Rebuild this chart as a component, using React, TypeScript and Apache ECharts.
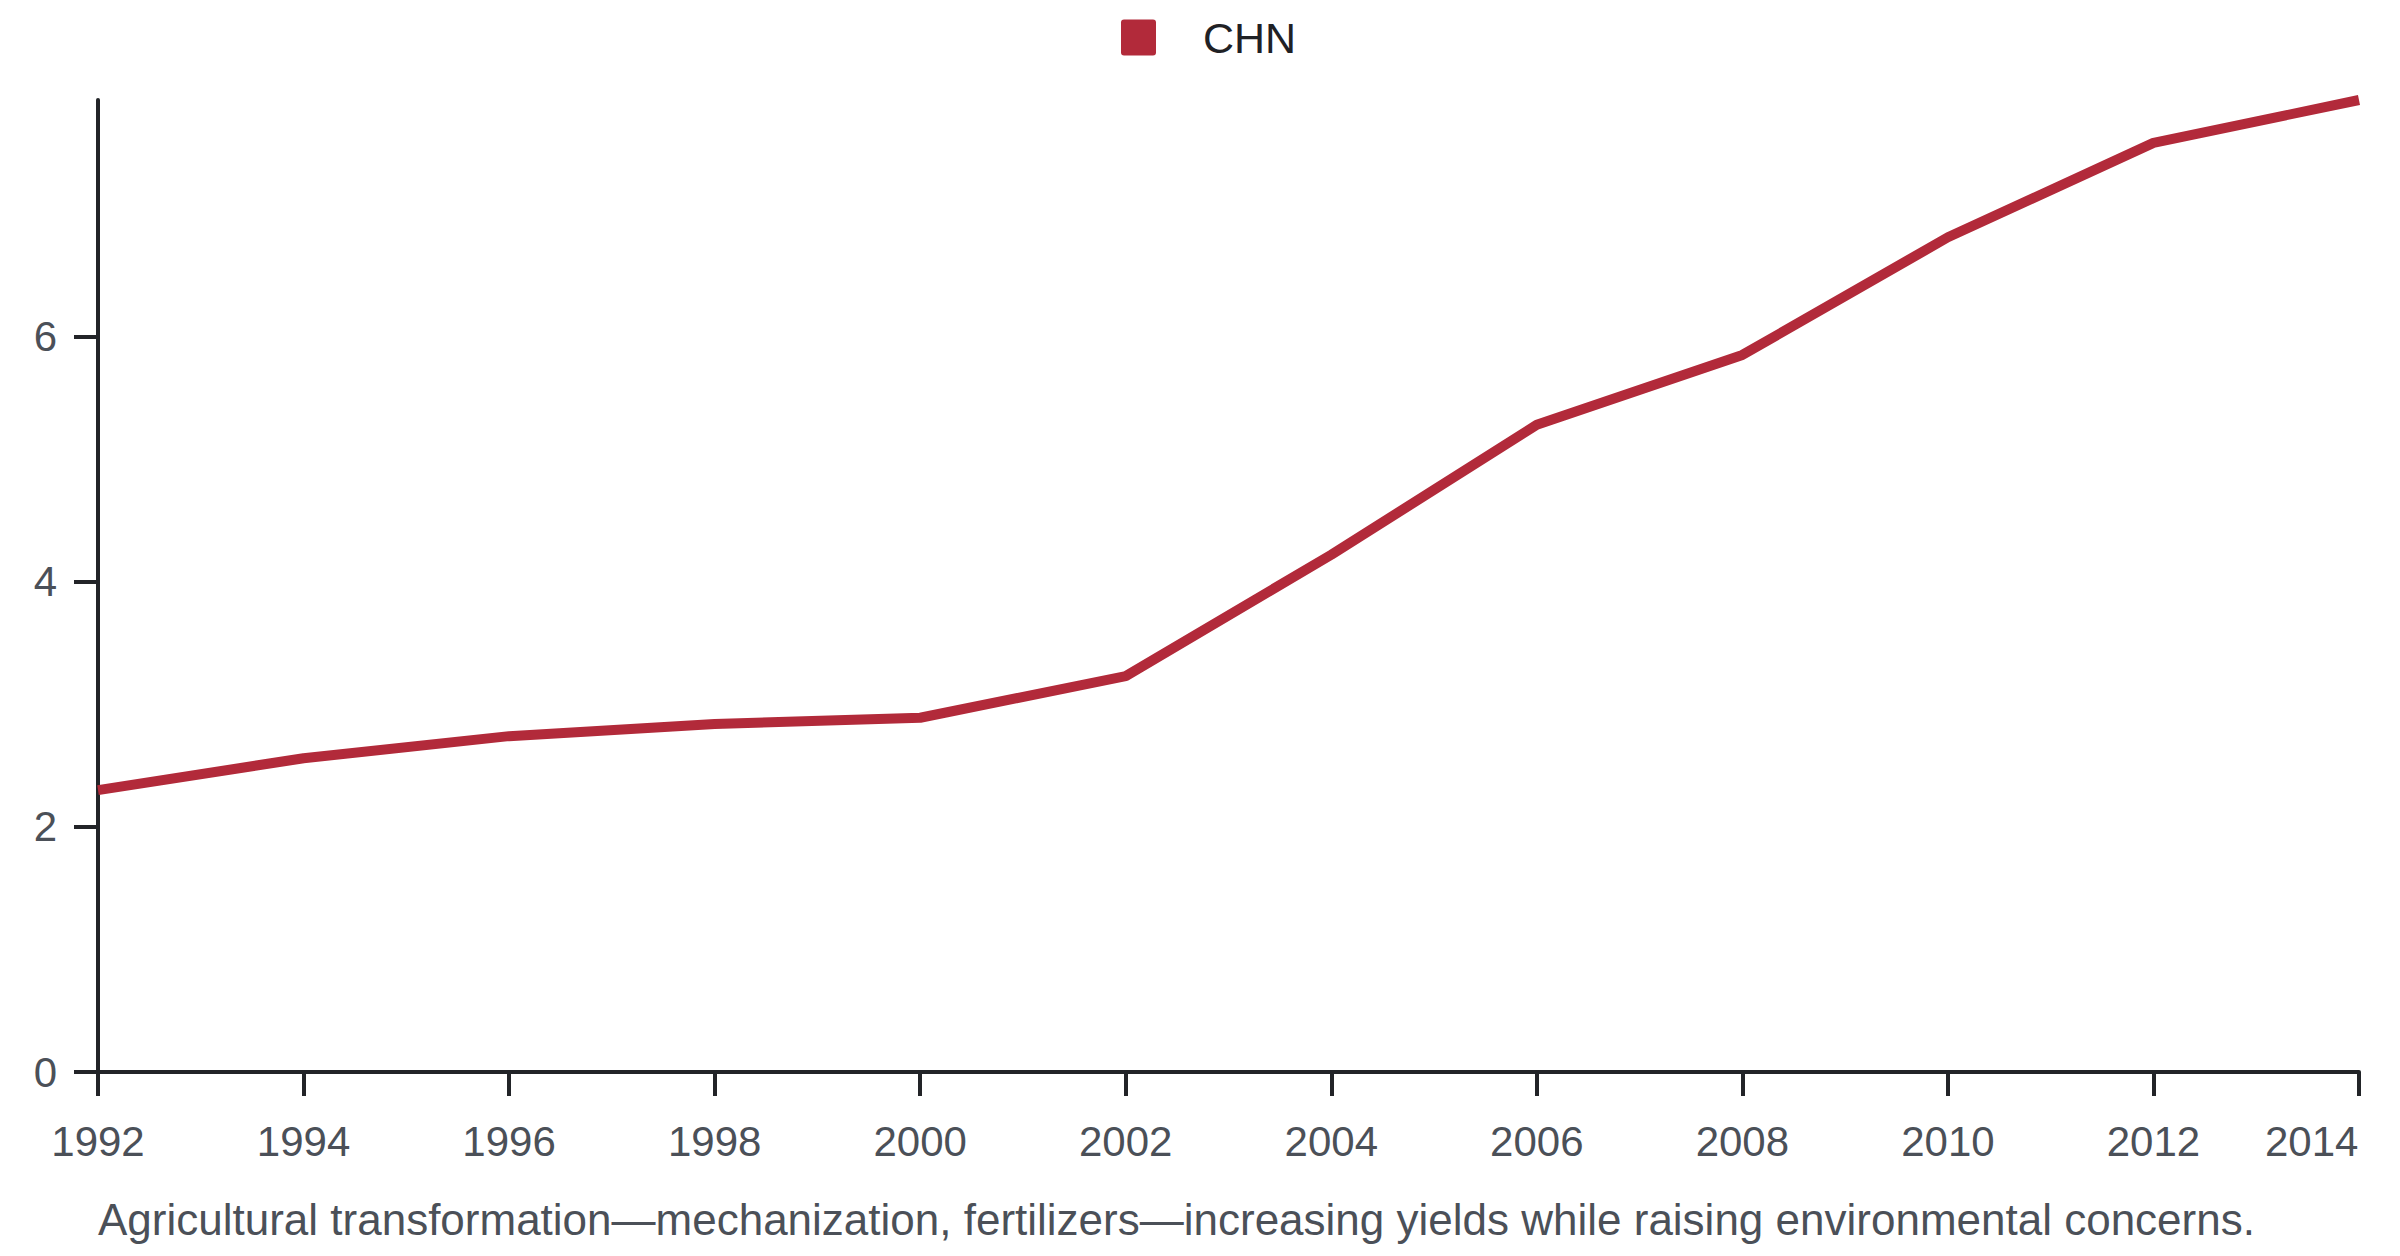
import { useEffect, useRef } from 'react'
import * as echarts from 'echarts'

const years = [1992, 1994, 1996, 1998, 2000, 2002, 2004, 2006, 2008, 2010, 2012, 2014]
const chnValues = [2.3, 2.56, 2.74, 2.84, 2.89, 3.23, 4.22, 5.28, 5.85, 6.81, 7.58, 7.93]
const yTicks = [0, 2, 4, 6]
const seriesName = 'CHN'
const caption = 'Agricultural transformation\u2014mechanization, fertilizers\u2014increasing yields while raising environmental concerns.'

const FONT = 'Liberation Sans, Arial, Helvetica, sans-serif'
const LINE_COLOR = '#b22a3a'
const AXIS_COLOR = '#222428'
const LABEL_COLOR = '#4b5058'

export default function App() {
  const chartRef = useRef<HTMLDivElement | null>(null)

  useEffect(() => {
    document.body.style.margin = '0'
    if (!chartRef.current) return
    const chart = echarts.init(chartRef.current, null, { renderer: 'svg' })

    chart.setOption({
      animation: false,
      backgroundColor: '#ffffff',
      textStyle: { fontFamily: FONT },
      legend: {
        data: [seriesName],
        left: 1121,
        top: 16,
        padding: 0,
        itemWidth: 35,
        itemHeight: 36,
        icon: 'path://M3,0 H32 Q35,0 35,3 V33 Q35,36 32,36 H3 Q0,36 0,33 V3 Q0,0 3,0 Z',
        textStyle: { fontSize: 43, color: '#1f2125', fontFamily: FONT, padding: [0, 0, 0, 42] }
      },
      grid: { left: 98, right: 41, top: 100, bottom: 184 },
      xAxis: {
        type: 'value',
        min: 1992,
        max: 2014,
        interval: 2,
        splitLine: { show: false },
        axisLine: { lineStyle: { color: AXIS_COLOR, width: 4 } },
        axisTick: { length: 24, lineStyle: { color: AXIS_COLOR, width: 4 } },
        axisLabel: {
          margin: 48,
          fontSize: 42,
          color: LABEL_COLOR,
          fontFamily: FONT,
          formatter: (v: number) => (v === 2014 ? '{r|' + v + '}' : String(v)),
          rich: {
            r: { width: 188, align: 'left', fontSize: 42, color: LABEL_COLOR, fontFamily: FONT }
          }
        }
      },
      yAxis: {
        type: 'value',
        min: 0,
        max: 'dataMax',
        interval: 2,
        splitLine: { show: false },
        axisLine: { show: true, lineStyle: { color: AXIS_COLOR, width: 4 } },
        axisTick: { show: true, length: 24, customValues: yTicks, lineStyle: { color: AXIS_COLOR, width: 4 } },
        axisLabel: { margin: 41, fontSize: 42, color: LABEL_COLOR, fontFamily: FONT, customValues: yTicks }
      },
      series: [
        {
          name: seriesName,
          type: 'line',
          data: years.map((y, i) => [y, chnValues[i]]),
          showSymbol: false,
          symbol: 'none',
          itemStyle: { color: LINE_COLOR },
          lineStyle: { color: LINE_COLOR, width: 10 }
        }
      ],
      graphic: [
        {
          type: 'text',
          left: 98,
          top: 1197,
          style: { text: caption, fontSize: 44, fill: LABEL_COLOR, fontFamily: FONT }
        }
      ]
    })

    return () => chart.dispose()
  }, [])

  return <div ref={chartRef} style={{ width: 2400, height: 1256 }} />
}
